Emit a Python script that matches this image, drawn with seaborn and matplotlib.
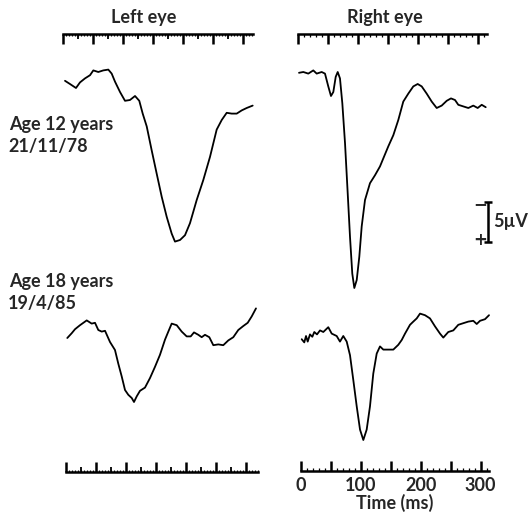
import matplotlib
matplotlib.use("Agg")
import matplotlib.pyplot as plt
import seaborn as sns
from matplotlib.ticker import MultipleLocator, FuncFormatter, FixedLocator

# ---------------- data ----------------
eye_titles = ["Left eye", "Right eye"]
session_age = ["Age 12 years", "Age 18 years"]
session_date = ["21/11/78", "19/4/85"]

# time in ms, amplitude in microvolts (positive plotted downward)
t_left_12 = [0, 8.3, 18.3, 25, 33.3, 41.7, 47.2, 55.5, 63.8, 72.2, 77.8, 83.3, 91.7, 100,
             108.3, 116.7, 123.8, 129.5, 136.2, 144.5, 152.8, 161.2, 169.5, 177.8, 183.3,
             191.7, 200, 208.3, 219.5, 230.5, 241.7, 252.8, 261.2, 269.5, 277.8, 286.2,
             294.5, 302.8, 312.8]
v_left_12 = [0.1, 0.5, 1.0, 0.3, -0.2, -0.6, -1.2, -1.0, -1.2, -1.3, -0.8, 0.2, 1.5, 2.6,
             2.5, 2.0, 2.6, 4.2, 5.8, 8.8, 11.7, 14.6, 17.1, 19.2, 20.2,
             20.0, 19.4, 17.9, 15.0, 12.5, 9.6, 6.2, 5.0, 4.1, 4.2, 4.2,
             3.8, 3.5, 3.2]

t_right_12 = [0, 7.2, 15.5, 23.8, 29.5, 37.8, 43.3, 48.8, 53.3, 57.2, 61.2, 64.5, 68.3,
              72.2, 76.7, 81.2, 85, 88.8, 92.2, 96.2, 100.5, 104.5, 110, 118.3, 126.7,
              135, 140.5, 148.8, 157.2, 165.5, 173.8, 182.2, 190.5, 197.8, 204.5, 212.8,
              221.2, 229.5, 237.8, 246.2, 253.3, 260, 265.5, 273.8, 282.2, 290.5, 297.8,
              304.5, 311.2]
v_right_12 = [0.1, 0.0, 0.2, -0.2, 0.2, 0.0, 0.2, 1.8, 3.0, 2.5, 0.6, 0.0, 0.8,
              3.9, 8.9, 15.2, 20.6, 25.2, 27.0, 26.0, 23.1, 19.3, 16.0, 13.9, 12.9,
              11.8, 10.8, 9.3, 7.9, 6.0, 3.7, 2.7, 1.8, 1.5, 1.8, 2.7,
              3.7, 4.5, 4.2, 3.6, 3.3, 3.5, 4.1, 4.3, 4.5, 4.2, 4.5,
              4.1, 4.4]

t_left_18 = [3.8, 11.2, 16.7, 25, 36.2, 44.5, 50, 55.5, 61.2, 66.7, 75, 83.3, 88.8, 94.5,
             100, 105.5, 111.2, 115, 119.5, 125, 133.3, 141.7, 150, 158.3, 166.7, 172.2,
             177.8, 186.2, 194.5, 202.8, 209.5, 215, 222.2, 227.8, 233.3, 240.5, 247.2,
             255.5, 263.8, 272.2, 280.5, 288.8, 297.2, 304.5, 311.2, 318.3]
v_left_18 = [0.0, -0.6, -1.1, -1.6, -2.2, -1.8, -1.9, -1.0, -0.8, -0.9, 0.5, 1.5, 3.2, 4.8,
             6.5, 7.1, 7.5, 8.0, 7.3, 6.6, 6.2, 5.0, 3.6, 2.1, 0.2, -0.8,
             -1.8, -1.6, -0.8, -0.2, -0.2, -0.7, -0.4, -0.1, -0.4, -0.1, 0.9,
             0.8, 0.9, 0.3, -0.1, -1.0, -1.5, -1.9, -2.7, -3.7]

t_right_18 = [4.5, 8.8, 11.7, 14.5, 18.3, 22.2, 25.5, 30, 35, 40.5, 48.8, 54.5, 62.8, 68.3,
              73.8, 79.5, 85, 90.5, 96.2, 101.7, 107.2, 112.8, 118.3, 123.8, 129.5, 135,
              140.5, 148.8, 157.2, 165.5, 171.2, 176.7, 185, 190.5, 196.2, 201.7, 210,
              218.3, 226.7, 235, 240.5, 248.8, 257.2, 265.5, 273.8, 282.2, 290.5, 296.2,
              301.7, 310, 316.7]
v_right_18 = [-0.1, 0.3, -0.5, 0.2, -0.7, -0.4, -1.0, -0.7, -1.2, -1.0, -1.6, -0.8, -0.5, 0.2,
              -0.5, 0.2, 1.9, 5.0, 8.3, 11.2, 12.5, 11.2, 8.3, 4.2, 1.7, 0.8,
              1.2, 1.2, 1.2, 0.6, 0.0, -0.8, -1.9, -2.3, -2.7, -3.3, -3.1,
              -2.7, -1.7, -0.8, -0.3, -1.0, -1.2, -1.9, -2.1, -2.3, -2.4, -2.0,
              -2.4, -2.6, -3.1]

time_tick_labels = [0, 100, 200, 300]
time_label = "Time (ms)"
scale_uv = 5
scale_text = "5\u00b5V"
polarity_signs = ["\u2212", "+"]

# ---------------- layout ----------------
sns.set_style("white")
plt.rcParams["font.family"] = ["Lato", "DejaVu Sans"]
plt.rcParams["font.weight"] = "bold"
FS = 13

W, H = 528, 516
fig = plt.figure(figsize=(W / 100, H / 100), dpi=100)
PX_MS = 0.6   # pixels per millisecond
PX_UV = 8.0   # pixels per microvolt


def trace_axes(x0, y0):
    ax = fig.add_axes([0, 0, 1, 1])
    ax.set_xlim(-x0 / PX_MS, (W - x0) / PX_MS)
    ax.set_ylim((H - y0) / PX_UV, -y0 / PX_UV)   # negative up
    ax.axis("off")
    ax.patch.set_alpha(0)
    return ax


def time_bar(x0, x1, y, top, fine):
    h = 0.03
    fy = 1 - y / H
    rect = [x0 / W, fy - h if top else fy, (x1 - x0) / W, h]
    side = "top" if top else "bottom"
    axes = []
    for k in range(2 if fine else 1):
        ax = fig.add_axes(rect)
        ax.patch.set_alpha(0)
        ax.set_xlim(0, (x1 - x0) / PX_MS)
        ax.set_ylim(0, 1)
        ax.set_yticks([])
        for s in ax.spines.values():
            s.set_visible(False)
        ax.xaxis.set_ticks_position(side)
        ax.tick_params(axis="x", labelbottom=False, labeltop=False)
        axes.append(ax)
    ax = axes[0]
    ax.spines[side].set_visible(True)
    ax.spines[side].set_linewidth(1.8)
    ax.spines[side].set_color("black")
    ax.xaxis.set_major_locator(MultipleLocator(50))
    ax.xaxis.set_minor_locator(MultipleLocator(5 if fine else 10))
    ax.tick_params(axis="x", which="major", direction="in", length=7.5, width=1.8, color="black")
    ax.tick_params(axis="x", which="minor", direction="in", length=2.2 if not fine else 1.6,
                   width=0.9, color="black")
    if fine:
        ax2 = axes[1]
        ax2.xaxis.set_major_locator(FixedLocator([25, 75, 125, 175, 225, 275]))
        ax2.tick_params(axis="x", which="major", direction="in", length=3.5, width=1.3,
                        color="black")
    return ax


# traces
for (tt, vv, x0, y0) in [(t_left_12, v_left_12, 65, 80),
                         (t_right_12, v_right_12, 299, 72),
                         (t_left_18, v_left_18, 65, 338),
                         (t_right_18, v_right_18, 299, 340)]:
    ax = trace_axes(x0, y0)
    sns.lineplot(x=tt, y=vv, ax=ax, color="black", linewidth=1.3, sort=False,
                 estimator=None)
    ax.set_xlim(-x0 / PX_MS, (W - x0) / PX_MS)
    ax.set_ylim((H - y0) / PX_UV, -y0 / PX_UV)

# time bars
time_bar(63, 253, 34, top=True, fine=True)
time_bar(298, 487, 34, top=True, fine=False)
time_bar(66, 258, 472, top=False, fine=True)
axb = time_bar(300.7, 489, 471, top=False, fine=False)
axb.xaxis.set_major_formatter(
    FuncFormatter(lambda v, p: f"{v:.0f}" if round(v) in time_tick_labels else ""))
axb.tick_params(axis="x", which="major", labelbottom=True, labelsize=FS, pad=4)
axb.set_xlabel(time_label, fontsize=FS, labelpad=0, fontweight="bold")

# titles
fig.text(144 / W, 1 - 22.5 / H, eye_titles[0], ha="center", va="baseline", fontsize=FS)
fig.text(385 / W, 1 - 22.5 / H, eye_titles[1], ha="center", va="baseline", fontsize=FS)

# session labels
fig.text(9 / W, 1 - 130 / H, session_age[0], ha="left", va="baseline", fontsize=FS)
fig.text(8 / W, 1 - 152 / H, session_date[0], ha="left", va="baseline", fontsize=FS)
fig.text(9 / W, 1 - 287 / H, session_age[1], ha="left", va="baseline", fontsize=FS)
fig.text(8 / W, 1 - 309 / H, session_date[1], ha="left", va="baseline", fontsize=FS)

# amplitude scale bar
axs = trace_axes(488, 202)
axs.errorbar([0], [scale_uv / 2], yerr=[scale_uv / 2], color="black", capsize=2.6,
             elinewidth=1.8, capthick=1.8)
fig.text(480 / W, 1 - 204 / H, polarity_signs[0], ha="center", va="center", fontsize=12,
         family="DejaVu Sans")
fig.text(480 / W, 1 - 240 / H, polarity_signs[1], ha="center", va="center", fontsize=12,
         family="DejaVu Sans")
fig.text(493 / W, 1 - 222 / H, scale_text, ha="left", va="center", fontsize=FS)

fig.savefig("out.png", dpi=100)
